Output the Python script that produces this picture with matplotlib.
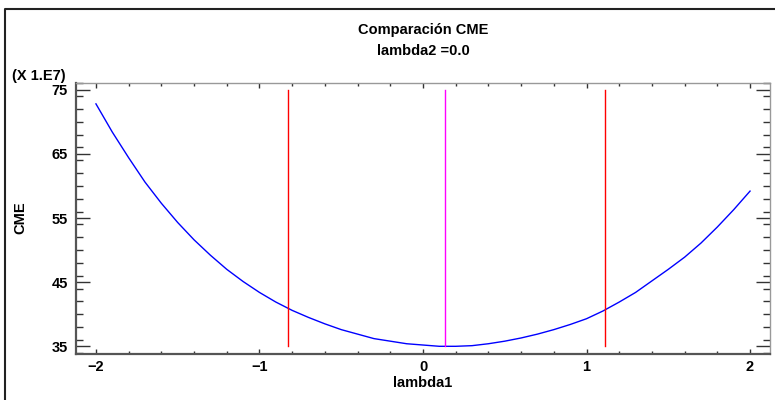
import matplotlib
matplotlib.use("Agg")
import matplotlib.pyplot as plt
from matplotlib.lines import Line2D
from matplotlib.ticker import MultipleLocator

plt.rcParams['font.family'] = ['Liberation Sans', 'DejaVu Sans']
plt.rcParams['font.weight'] = 'bold'

# CME (in units of 1e7) as a function of lambda1, with lambda2 = 0.0
lambda1 = [-2.0, -1.9, -1.8, -1.7, -1.6, -1.5, -1.4, -1.3, -1.2, -1.1, -1.0,
           -0.9, -0.8, -0.7, -0.6, -0.5, -0.4, -0.3, -0.2, -0.1, 0.0,
           0.1, 0.2, 0.3, 0.4, 0.5, 0.6, 0.7, 0.8, 0.9, 1.0,
           1.1, 1.2, 1.3, 1.4, 1.5, 1.6, 1.7, 1.8, 1.9, 2.0]
cme = [72.8, 68.4, 64.4, 60.6, 57.3, 54.3, 51.6, 49.2, 47.0, 45.1, 43.4,
       41.9, 40.6, 39.5, 38.5, 37.6, 36.9, 36.2, 35.8, 35.4, 35.2,
       35.0, 35.0, 35.1, 35.4, 35.8, 36.3, 36.9, 37.6, 38.4, 39.3,
       40.5, 41.9, 43.4, 45.2, 47.0, 48.9, 51.1, 53.6, 56.3, 59.2]

# reference lines: interval limits (red) and optimum (magenta)
interval_limits = [-0.827, 1.115]
optimum = 0.135
y_span = [35, 75]

x_ticks = [-2, -1, 0, 1, 2]
y_ticks = [35, 45, 55, 65, 75]

FS = 10.5
W, H = 775, 400
fig = plt.figure(figsize=(W / 100, H / 100), dpi=100)
ax = fig.add_axes([76 / W, 1 - 354 / H, (770 - 76) / W, (354 - 82.7) / H])

ax.plot(lambda1, cme, color='#0000ff', lw=1.0)
for xv in interval_limits:
    ax.plot([xv, xv], y_span, color='#ff0000', lw=1.0)
ax.plot([optimum, optimum], y_span, color='#ff00ff', lw=1.0)

ax.set_xlim(-2.122, 2.122)
ax.set_ylim(33.8, 76.1)
ax.set_xticks(x_ticks)
ax.set_yticks(y_ticks)
ax.xaxis.set_minor_locator(MultipleLocator(0.2))
ax.yaxis.set_minor_locator(MultipleLocator(2))

ax.tick_params(axis='x', which='major', direction='in', length=3.6, width=1.0,
               top=True, bottom=True, pad=4, labelsize=FS, color='#333333')
ax.tick_params(axis='x', which='minor', direction='in', length=2.2, width=1.0,
               top=True, bottom=True, color='#333333')
ax.tick_params(axis='y', which='major', direction='in', length=10, width=1.0,
               left=True, right=True, pad=6, labelsize=FS, color='#333333')
ax.tick_params(axis='y', which='minor', direction='in', length=5, width=1.0,
               left=True, right=True, color='#333333')
for lbl in ax.get_xticklabels() + ax.get_yticklabels():
    lbl.set_fontweight('bold')

for side in ['left', 'bottom']:
    ax.spines[side].set_color('#555555')
    ax.spines[side].set_linewidth(1.6)
for side in ['top', 'right']:
    ax.spines[side].set_color('#999999')
    ax.spines[side].set_linewidth(1.0)

fig.text(423 / W, 1 - 30 / H, 'Comparación CME', ha='center', va='center',
         fontsize=FS, fontweight='bold')
fig.text(423 / W, 1 - 51 / H, 'lambda2 =0.0', ha='center', va='center',
         fontsize=FS, fontweight='bold')
fig.text(12 / W, 1 - 76 / H, '(X 1.E7)', ha='left', va='center',
         fontsize=FS, fontweight='bold')
fig.text(20 / W, 1 - 218 / H, 'CME', ha='center', va='center', rotation=90,
         fontsize=FS, fontweight='bold')
fig.text(423 / W, 1 - 383 / H, 'lambda1', ha='center', va='center',
         fontsize=FS, fontweight='bold')

# outer frame (left and top edges)
fig.add_artist(Line2D([5 / W, 5 / W, 1.0], [0.0, 1 - 9 / H, 1 - 9 / H],
                      transform=fig.transFigure, color='#222222', lw=1.5))

fig.savefig('out.png', dpi=100)
